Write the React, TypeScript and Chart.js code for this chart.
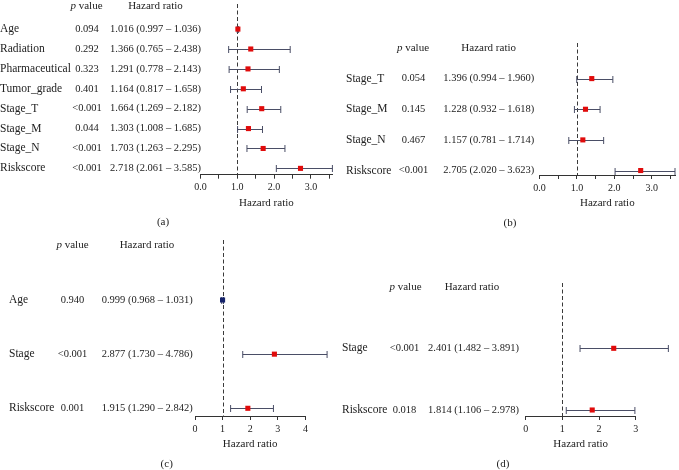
import React, { useEffect, useRef } from 'react';
import { Chart, registerables } from 'chart.js';

Chart.register(...registerables);

const FONT = '"Liberation Serif", "Times New Roman", serif';
const TEXT = '#222222';
const RED = '#e00b0b';
const NAVY = '#15236b';

// ---------- Panel (a) ----------
const aVariables = ['Age', 'Radiation', 'Pharmaceutical', 'Tumor_grade', 'Stage_T', 'Stage_M', 'Stage_N', 'Riskscore'];
const aPValues = ['0.094', '0.292', '0.323', '0.401', '<0.001', '0.044', '<0.001', '<0.001'];
const aHR = [1.016, 1.366, 1.291, 1.164, 1.664, 1.303, 1.703, 2.718];
const aLower = [0.997, 0.765, 0.778, 0.817, 1.269, 1.008, 1.263, 2.061];
const aUpper = [1.036, 2.438, 2.143, 1.658, 2.182, 1.685, 2.295, 3.585];
const aColors = [RED, RED, RED, RED, RED, RED, RED, RED];
const aTickValues = [0, 0.5, 1, 1.5, 2, 2.5, 3, 3.5];
const aTickLabels = ['0.0', '', '1.0', '', '2.0', '', '3.0', ''];

// ---------- Panel (b) ----------
const bVariables = ['Stage_T', 'Stage_M', 'Stage_N', 'Riskscore'];
const bPValues = ['0.054', '0.145', '0.467', '<0.001'];
const bHR = [1.396, 1.228, 1.157, 2.705];
const bLower = [0.994, 0.932, 0.781, 2.02];
const bUpper = [1.96, 1.618, 1.714, 3.623];
const bColors = [RED, RED, RED, RED];
const bTickValues = [0, 0.5, 1, 1.5, 2, 2.5, 3, 3.5];
const bTickLabels = ['0.0', '', '1.0', '', '2.0', '', '3.0', ''];

// ---------- Panel (c) ----------
const cVariables = ['Age', 'Stage', 'Riskscore'];
const cPValues = ['0.940', '<0.001', '0.001'];
const cHR = [0.999, 2.877, 1.915];
const cLower = [0.968, 1.73, 1.29];
const cUpper = [1.031, 4.786, 2.842];
const cColors = [NAVY, RED, RED];
const cTickValues = [0, 1, 2, 3, 4];
const cTickLabels = ['0', '1', '2', '3', '4'];

// ---------- Panel (d) ----------
const dVariables = ['Stage', 'Riskscore'];
const dPValues = ['<0.001', '0.018'];
const dHR = [2.401, 1.814];
const dLower = [1.482, 1.106];
const dUpper = [3.891, 2.978];
const dColors = [RED, RED];
const dTickValues = [0, 1, 2, 3];
const dTickLabels = ['0', '1', '2', '3'];

const fmt = (v: number) => v.toFixed(3);

type Panel = {
  tag: string;
  variables: string[];
  pValues: string[];
  hr: number[];
  lower: number[];
  upper: number[];
  colors: string[];
  tickValues: number[];
  tickLabels: string[];
  xMin: number;
  xMax: number;
  // layout (pixels, local to the panel canvas)
  left: number; top: number; w: number; h: number;
  areaLeft: number; areaRight: number; areaTop: number; areaBottom: number;
  rowY0: number; rowStep: number;
  labelX: number; pX: number; hrX: number;
  headerY: number; headerPX: number; headerHRX: number;
  tagX: number; tagY: number;
};

const panels: Panel[] = [
  {
    tag: '(a)', variables: aVariables, pValues: aPValues, hr: aHR, lower: aLower, upper: aUpper,
    colors: aColors, tickValues: aTickValues, tickLabels: aTickLabels, xMin: 0, xMax: 3.585,
    left: 0, top: 0, w: 340, h: 235,
    areaLeft: 200.5, areaRight: 332.4, areaTop: 0, areaBottom: 174.7,
    rowY0: 25.7, rowStep: 20.36,
    labelX: 0, pX: 87, hrX: 110,
    headerY: 5.7, headerPX: 86.5, headerHRX: 155.5,
    tagX: 163, tagY: 222,
  },
  {
    tag: '(b)', variables: bVariables, pValues: bPValues, hr: bHR, lower: bLower, upper: bUpper,
    colors: bColors, tickValues: bTickValues, tickLabels: bTickLabels, xMin: 0, xMax: 3.623,
    left: 340, top: 0, w: 339, h: 235,
    areaLeft: 199.6, areaRight: 336.3, areaTop: 43, areaBottom: 175,
    rowY0: 78.6, rowStep: 30.65,
    labelX: 6, pX: 73.5, hrX: 103.3,
    headerY: 47.7, headerPX: 73, headerHRX: 148.7,
    tagX: 170, tagY: 223,
  },
  {
    tag: '(c)', variables: cVariables, pValues: cPValues, hr: cHR, lower: cLower, upper: cUpper,
    colors: cColors, tickValues: cTickValues, tickLabels: cTickLabels, xMin: 0, xMax: 4,
    left: 0, top: 235, w: 340, h: 235,
    areaLeft: 195, areaRight: 305.4, areaTop: 5, areaBottom: 181,
    rowY0: 65, rowStep: 54.15,
    labelX: 9, pX: 72.5, hrX: 101.7,
    headerY: 10, headerPX: 72.5, headerHRX: 147,
    tagX: 166.7, tagY: 229,
  },
  {
    tag: '(d)', variables: dVariables, pValues: dPValues, hr: dHR, lower: dLower, upper: dUpper,
    colors: dColors, tickValues: dTickValues, tickLabels: dTickLabels, xMin: 0, xMax: 3,
    left: 340, top: 235, w: 339, h: 235,
    areaLeft: 185.7, areaRight: 295.7, areaTop: 48, areaBottom: 181,
    rowY0: 113.3, rowStep: 61.7,
    labelX: 2, pX: 64.5, hrX: 88,
    headerY: 51.7, headerPX: 65.5, headerHRX: 132,
    tagX: 163, tagY: 229,
  },
];

function makeForestPlugin(p: Panel) {
  return {
    id: 'forest' + p.tag,
    beforeDatasetsDraw(chart: any) {
      const { ctx, chartArea } = chart;
      const xs = chart.scales.x;
      const ys = chart.scales.y;
      ctx.save();
      // reference line at HR = 1
      const rx = Math.round(xs.getPixelForValue(1)) + 0.5;
      ctx.strokeStyle = '#3a3a3a';
      ctx.lineWidth = 1;
      ctx.setLineDash([4, 2.5]);
      ctx.beginPath();
      ctx.moveTo(rx, chartArea.top);
      ctx.lineTo(rx, chartArea.bottom);
      ctx.stroke();
      ctx.setLineDash([]);
      // confidence intervals
      ctx.strokeStyle = '#4a4e66';
      p.lower.forEach((lo, i) => {
        const yy = Math.round(ys.getPixelForValue(i)) + 0.5;
        const x1 = xs.getPixelForValue(lo);
        const x2 = xs.getPixelForValue(p.upper[i]);
        ctx.beginPath();
        ctx.moveTo(x1, yy);
        ctx.lineTo(x2, yy);
        ctx.moveTo(x1, yy - 3.5);
        ctx.lineTo(x1, yy + 3.5);
        ctx.moveTo(x2, yy - 3.5);
        ctx.lineTo(x2, yy + 3.5);
        ctx.stroke();
      });
      ctx.restore();
    },
    afterDraw(chart: any) {
      const { ctx } = chart;
      const ys = chart.scales.y;
      ctx.save();
      ctx.fillStyle = TEXT;
      ctx.textBaseline = 'middle';
      // header: "p value" (p in italics) and "Hazard ratio"
      ctx.font = `italic 11px ${FONT}`;
      const pw = ctx.measureText('p').width;
      ctx.font = `11px ${FONT}`;
      const vw = ctx.measureText(' value').width;
      const startX = p.headerPX - (pw + vw) / 2;
      ctx.textAlign = 'left';
      ctx.font = `italic 11px ${FONT}`;
      ctx.fillText('p', startX, p.headerY);
      ctx.font = `11px ${FONT}`;
      ctx.fillText(' value', startX + pw, p.headerY);
      ctx.textAlign = 'center';
      ctx.fillText('Hazard ratio', p.headerHRX, p.headerY);
      // rows
      p.variables.forEach((name, i) => {
        const yy = ys.getPixelForValue(i);
        ctx.font = `11.5px ${FONT}`;
        ctx.textAlign = 'left';
        ctx.fillText(name, p.labelX, yy);
        ctx.font = `10.5px ${FONT}`;
        ctx.textAlign = 'center';
        ctx.fillText(p.pValues[i], p.pX, yy);
        ctx.textAlign = 'left';
        ctx.fillText(`${fmt(p.hr[i])} (${fmt(p.lower[i])} \u2013 ${fmt(p.upper[i])})`, p.hrX, yy);
      });
      // panel tag
      ctx.font = `11px ${FONT}`;
      ctx.textAlign = 'center';
      ctx.fillText(p.tag, p.tagX, p.tagY);
      ctx.restore();
    },
  };
}

function ForestPanel({ p }: { p: Panel }) {
  const ref = useRef<HTMLCanvasElement | null>(null);
  useEffect(() => {
    if (!ref.current) return;
    const yMin = (p.areaTop - p.rowY0) / p.rowStep;
    const yMax = (p.areaBottom - p.rowY0) / p.rowStep;
    const axisH = p.h - p.areaBottom;
    const titleCenter = p.areaBottom + 28;
    const chart = new Chart(ref.current, {
      type: 'scatter',
      data: {
        datasets: [
          {
            data: p.hr.map((v, i) => ({ x: v, y: i })),
            backgroundColor: p.colors,
            borderWidth: 0,
            pointStyle: 'rect',
            pointRadius: 3.6,
            clip: false as any,
          },
        ],
      },
      options: {
        responsive: false,
        animation: false,
        devicePixelRatio: 1,
        events: [],
        layout: {
          padding: { left: p.areaLeft, right: p.w - p.areaRight, top: p.areaTop, bottom: 0 },
        },
        plugins: { legend: { display: false }, tooltip: { enabled: false }, title: { display: false } },
        scales: {
          x: {
            type: 'linear',
            min: p.xMin,
            max: p.xMax,
            afterBuildTicks: (scale: any) => {
              scale.ticks = p.tickValues.map((v) => ({ value: v }));
            },
            afterFit: (scale: any) => {
              scale.height = axisH;
            },
            ticks: {
              autoSkip: false,
              maxRotation: 0,
              padding: 3,
              color: TEXT,
              font: { family: FONT, size: 10 },
              callback: (_v: any, idx: number) => p.tickLabels[idx],
            },
            grid: { display: true, drawOnChartArea: false, drawTicks: true, tickLength: 4, color: '#333333' },
            border: { display: true, color: '#333333', width: 1 },
            title: {
              display: true,
              text: 'Hazard ratio',
              color: TEXT,
              font: { family: FONT, size: 11 },
              padding: { top: 0, bottom: p.h - titleCenter - 6.6 },
            },
          },
          y: {
            type: 'linear',
            display: false,
            reverse: true,
            min: yMin,
            max: yMax,
          },
        },
      },
      plugins: [makeForestPlugin(p)],
    } as any);
    return () => chart.destroy();
  }, [p]);
  return (
    <canvas
      ref={ref}
      width={p.w}
      height={p.h}
      style={{ position: 'absolute', left: p.left, top: p.top, width: p.w, height: p.h }}
    />
  );
}

export default function App() {
  return (
    <div style={{ position: 'absolute', left: 0, top: 0, width: 679, height: 470, background: '#ffffff', overflow: 'hidden' }}>
      {panels.map((p) => (
        <ForestPanel key={p.tag} p={p} />
      ))}
    </div>
  );
}
